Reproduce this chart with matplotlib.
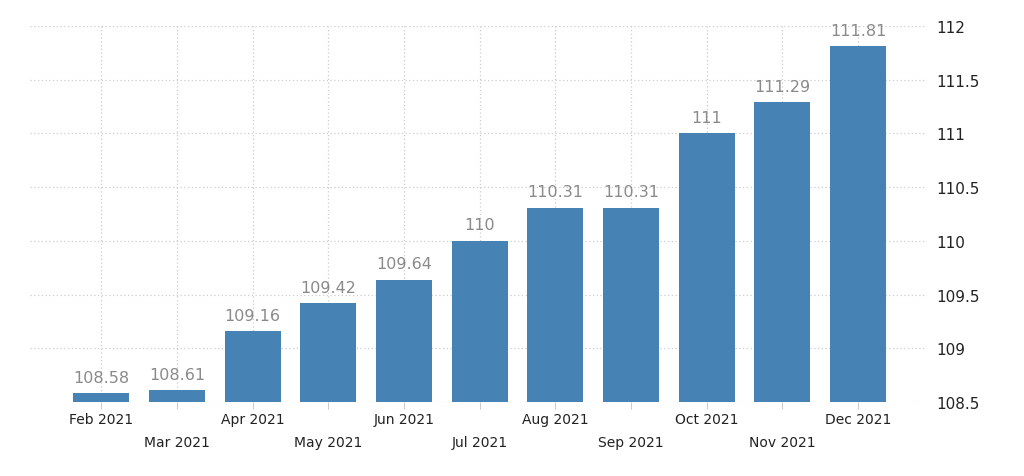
import matplotlib
matplotlib.use("Agg")
import matplotlib.pyplot as plt

months = ["Feb 2021", "Mar 2021", "Apr 2021", "May 2021", "Jun 2021", "Jul 2021",
          "Aug 2021", "Sep 2021", "Oct 2021", "Nov 2021", "Dec 2021"]
values = [108.58, 108.61, 109.16, 109.42, 109.64, 110.0, 110.31, 110.31, 111.0, 111.29, 111.81]
value_labels = ["108.58", "108.61", "109.16", "109.42", "109.64", "110", "110.31", "110.31", "111", "111.29", "111.81"]
yticks = [108.5, 109, 109.5, 110, 110.5, 111, 111.5, 112]
ytick_labels = ["108.5", "109", "109.5", "110", "110.5", "111", "111.5", "112"]

fig = plt.figure(figsize=(10.24, 4.77), dpi=100)
ax = fig.add_axes([30/1024, 1 - 403/477, (927-30)/1024, (403-27)/477])

x = list(range(len(months)))
ax.bar(x, [v - 108.5 for v in values], bottom=108.5, width=0.74, color="#4682b4", zorder=3)
for xi, v, lab in zip(x, values, value_labels):
    ax.text(xi, v + 0.08, lab, ha="center", va="bottom", fontsize=11.5, color="#8a8a8a", zorder=4)

ax.set_xlim(-0.94, 10.91)
ax.set_ylim(108.5, 112)
ax.set_xticks(x)
ax.set_xticklabels([m if i % 2 == 0 else "\n" + m for i, m in enumerate(months)],
                   fontsize=10, color="#222222", linespacing=1.85)
ax.yaxis.tick_right()
ax.set_yticks(yticks)
ax.set_yticklabels(ytick_labels, fontsize=11, color="#222222")
ax.tick_params(axis="y", length=0, pad=7)
ax.tick_params(axis="x", length=5, color="#cccccc", pad=2)
for s in ax.spines.values():
    s.set_visible(False)
ax.grid(True, color="#cccccc", linestyle=(0, (1, 2)), linewidth=0.9, zorder=0)
ax.set_axisbelow(True)

fig.savefig("out.png", dpi=100)
